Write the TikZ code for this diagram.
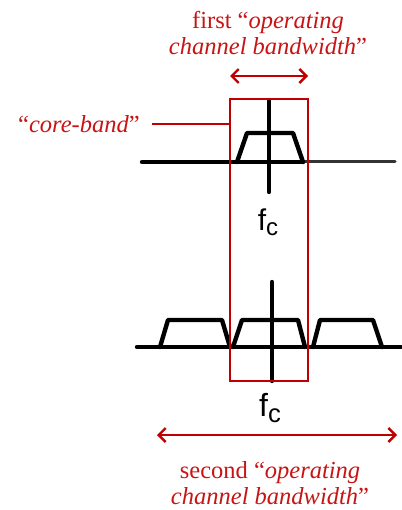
\documentclass[tikz,border=0pt]{standalone}
\usepackage{fontspec}
\setmainfont{Liberation Serif}
\newfontfamily\fcfont{Liberation Sans}
\usetikzlibrary{arrows.meta}
\definecolor{dred}{RGB}{192,0,0}
\definecolor{tred}{RGB}{200,20,20}
\newcommand{\fcmark}[1]{{\fcfont\fontsize{#1}{#1}\selectfont f\raisebox{-0.18em}{\fontsize{0.8\dimexpr#1pt\relax}{10}\selectfont c}}}
\begin{document}
\begin{tikzpicture}[x=1pt,y=-1pt,
  sig/.style={line width=4.4pt,line cap=round,line join=round,black},
  redline/.style={line width=1.8pt,dred},
  redarrow/.style={line width=2.4pt,dred,{Straight Barb[length=7pt,width=14pt]}-{Straight Barb[length=7pt,width=14pt]}},
  lbl/.style={text=tred,font=\fontsize{24.5}{26.5}\selectfont,align=center,inner sep=0pt},
  fclbl/.style={inner sep=0pt}]
\useasboundingbox (0,0) rectangle (401,510);
% top spectrum
\draw[sig] (142,162) -- (235,162);
\draw[line width=3pt,black!80,line cap=round] (303,162) -- (395,162);
\draw[sig] (235,162) -- (303,162);
\draw[sig] (237,162) -- (247,133) -- (293,133) -- (303,162);
\draw[sig] (269,100) -- (269,192);
\node[fclbl] (fc1) at (268,222) {\fcmark{30}};
% bottom spectrum
\draw[sig] (137,347) -- (401,347);
\draw[sig] (160,347) -- (168,320) -- (222,320) -- (230,347);
\draw[sig] (233,347) -- (242,320) -- (298,320) -- (305,347);
\draw[sig] (313,347) -- (320,320) -- (373,320) -- (382,347);
\draw[sig] (272,282) -- (272,381);
\node[fclbl] (fc2) at (270,408) {\fcmark{32}};
% core band rectangle
\node[draw=dred,line width=1.8pt,minimum width=78pt,minimum height=282pt,inner sep=0pt] (core) at (269,240) {};
% labels
\node[lbl] (first) at (268,33) {first ``\textit{operating}\\\textit{channel bandwidth}''};
\node[lbl,anchor=east] (coretxt) at (140,124) {``\textit{core-band}''};
\node[lbl] (second) at (270,483) {second ``\textit{operating}\\\textit{channel bandwidth}''};
\draw[redline] (coretxt.east) ++(12pt,0) -- (core.west |- coretxt.east);
% arrows
\coordinate (a1l) at (230,76);
\coordinate (a1r) at (308,76);
\draw[redarrow] (a1l) -- (a1r);
\coordinate (a2l) at (157,435);
\coordinate (a2r) at (397,435);
\draw[redarrow] (a2l) -- (a2r);
\end{tikzpicture}
\end{document}
